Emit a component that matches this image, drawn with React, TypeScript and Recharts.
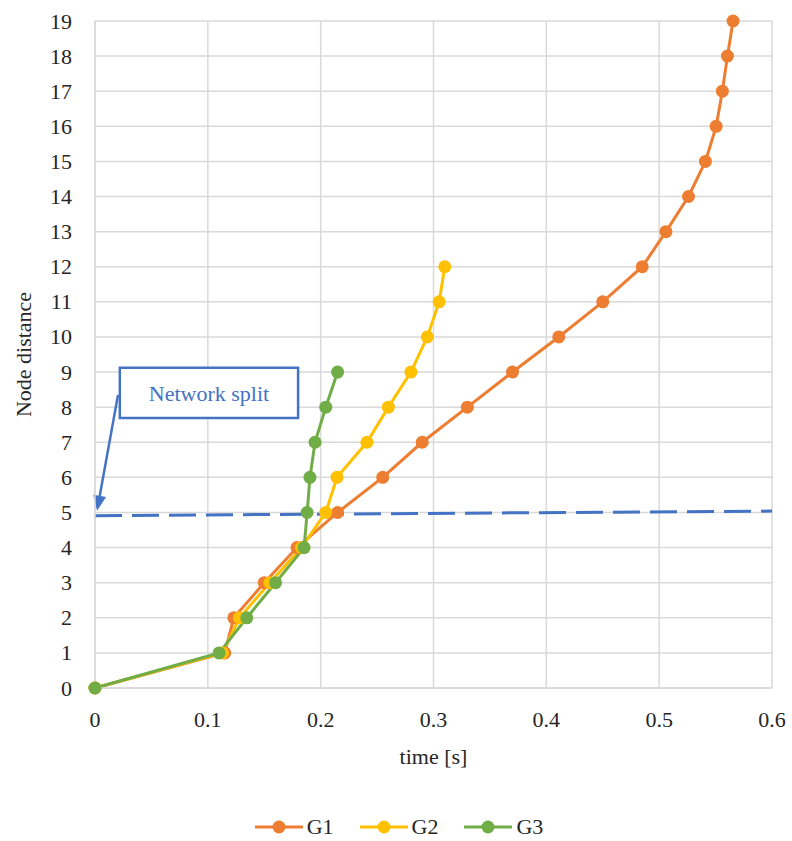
import React from "react";
import {
  CartesianGrid,
  Legend,
  Line,
  LineChart,
  ReferenceArea,
  ReferenceLine,
  XAxis,
  YAxis,
} from "recharts";

const G1_DIST = [0, 1, 2, 3, 4, 5, 6, 7, 8, 9, 10, 11, 12, 13, 14, 15, 16, 17, 18, 19];
const G1_TIME = [0, 0.115, 0.123, 0.15, 0.179, 0.215, 0.255, 0.29, 0.33, 0.37, 0.411, 0.45, 0.485, 0.506, 0.526, 0.541, 0.5505, 0.556, 0.5605, 0.5655];

const G2_DIST = [0, 1, 2, 3, 4, 5, 6, 7, 8, 9, 10, 11, 12];
const G2_TIME = [0, 0.113, 0.128, 0.155, 0.183, 0.2045, 0.2145, 0.241, 0.26, 0.28, 0.2945, 0.305, 0.31];

const G3_DIST = [0, 1, 2, 3, 4, 5, 6, 7, 8, 9];
const G3_TIME = [0, 0.11, 0.1345, 0.16, 0.1853, 0.188, 0.1905, 0.195, 0.2045, 0.215];

const X_TICKS = [0, 0.1, 0.2, 0.3, 0.4, 0.5, 0.6];
const Y_TICKS = [0, 1, 2, 3, 4, 5, 6, 7, 8, 9, 10, 11, 12, 13, 14, 15, 16, 17, 18, 19];

// network split line and its callout, in data units
const SPLIT_LINE = [
  { x: 0, y: 4.91 },
  { x: 0.6, y: 5.04 },
];
const CALLOUT_BOX = { x1: 0.022, x2: 0.18, y1: 7.69, y2: 9.12 };
const CALLOUT_ARROW = [
  { x: 0.0204, y: 8.35 },
  { x: 0.0018, y: 5.05 },
];

const toRows = (times: number[], dists: number[]) =>
  times.map((t, i) => ({ t, d: dists[i] }));

const SERIES = [
  { name: "G1", color: "#ED7D31", data: toRows(G1_TIME, G1_DIST) },
  { name: "G2", color: "#FFC000", data: toRows(G2_TIME, G2_DIST) },
  { name: "G3", color: "#70AD47", data: toRows(G3_TIME, G3_DIST) },
];

const BLUE = "#4472C4";
const TEXT = "#262626";
const FONT = '"Liberation Serif", "Times New Roman", serif';

function XTick(props: any) {
  const { x, y, payload } = props;
  return (
    <text x={x} y={y + 37} textAnchor="middle" fill={TEXT} fontSize={22} fontFamily={FONT}>
      {payload.value}
    </text>
  );
}

function YTick(props: any) {
  const { x, y, payload } = props;
  return (
    <text x={x - 21} y={y + 7.5} textAnchor="end" fill={TEXT} fontSize={22} fontFamily={FONT}>
      {payload.value}
    </text>
  );
}

function Arrow(props: any) {
  const { x1, y1, x2, y2 } = props;
  const ang = Math.atan2(y2 - y1, x2 - x1);
  const len = 15;
  const w = 6.5;
  const bx = x2 - len * Math.cos(ang);
  const by = y2 - len * Math.sin(ang);
  const px = -Math.sin(ang) * w;
  const py = Math.cos(ang) * w;
  return (
    <g>
      <line x1={x1} y1={y1} x2={bx} y2={by} stroke={BLUE} strokeWidth={2.5} />
      <polygon
        points={`${x2},${y2} ${bx + px},${by + py} ${bx - px},${by - py}`}
        fill={BLUE}
      />
    </g>
  );
}

function LegendContent() {
  return (
    <div
      style={{
        display: "flex",
        justifyContent: "center",
        gap: 26,
        height: 24,
        alignItems: "center",
        fontFamily: FONT,
        fontSize: 22,
        color: TEXT,
        paddingLeft: 8,
      }}
    >
      {SERIES.map((s) => (
        <div key={s.name} style={{ display: "flex", alignItems: "center", gap: 4 }}>
          <svg width={48} height={16}>
            <line x1={0} y1={8} x2={48} y2={8} stroke={s.color} strokeWidth={3} />
            <circle cx={24} cy={8} r={6.5} fill={s.color} />
          </svg>
          <span>{s.name}</span>
        </div>
      ))}
    </div>
  );
}

export default function App() {
  // pinned to the page corner so the chart fills the window without a scrollbar
  return (
    <div style={{ position: "absolute", left: 0, top: 0 }}>
      <LineChart
        width={792}
        height={841}
        margin={{ top: 21, right: 20, left: 18, bottom: 2 }}
        style={{ fontFamily: FONT }}
      >
        <CartesianGrid stroke="#D9D9D9" strokeWidth={1.5} />
        <XAxis
          type="number"
          dataKey="t"
          domain={[0, 0.6]}
          ticks={X_TICKS}
          allowDuplicatedCategory={false}
          height={127}
          tickSize={0}
          tickLine={false}
          axisLine={{ stroke: "#D9D9D9", strokeWidth: 1.5 }}
          tick={XTick}
          label={{
            value: "time [s]",
            position: "insideTop",
            offset: 60,
            fill: TEXT,
            fontSize: 22,
            fontFamily: FONT,
          }}
        />
        <YAxis
          type="number"
          dataKey="d"
          domain={[0, 19]}
          ticks={Y_TICKS}
          interval={0}
          width={77}
          tickSize={0}
          tickLine={false}
          axisLine={{ stroke: "#D9D9D9", strokeWidth: 1.5 }}
          tick={YTick}
          label={{
            value: "Node distance",
            angle: -90,
            position: "insideLeft",
            offset: 5,
            fill: TEXT,
            fontSize: 22,
            fontFamily: FONT,
            style: { textAnchor: "middle" },
          }}
        />
        <ReferenceLine
          segment={SPLIT_LINE}
          stroke={BLUE}
          strokeWidth={3}
          strokeDasharray="27 10"
          ifOverflow="visible"
        />
        {SERIES.map((s) => (
          <Line
            key={s.name}
            name={s.name}
            data={s.data}
            dataKey="d"
            type="linear"
            stroke={s.color}
            strokeWidth={3}
            dot={{ r: 6.5, fill: s.color, stroke: s.color, strokeWidth: 0 }}
            activeDot={false}
            isAnimationActive={false}
          />
        ))}
        <ReferenceArea
          x1={CALLOUT_BOX.x1}
          x2={CALLOUT_BOX.x2}
          y1={CALLOUT_BOX.y1}
          y2={CALLOUT_BOX.y2}
          fill="#FFFFFF"
          fillOpacity={1}
          stroke={BLUE}
          strokeWidth={2.5}
          ifOverflow="visible"
          label={{
            value: "Network split",
            position: "center",
            fill: BLUE,
            fontSize: 22,
            fontFamily: FONT,
          }}
        />
        <ReferenceLine segment={CALLOUT_ARROW} shape={Arrow} ifOverflow="visible" />
        <Legend verticalAlign="bottom" content={LegendContent} />
      </LineChart>
    </div>
  );
}
